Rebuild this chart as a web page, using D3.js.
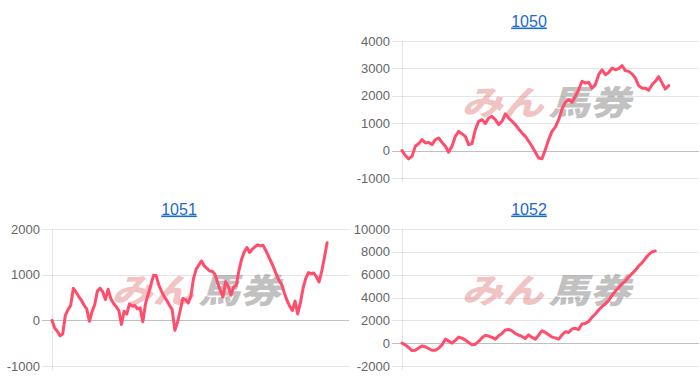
<!doctype html>
<html lang="ja">
<head>
  <meta charset="utf-8">
  <title>収支グラフ</title>
  <style>
    html, body { margin: 0; padding: 0; background: #fff; }
    #charts { width: 700px; height: 382px; }
    .grid line { stroke: rgba(0, 0, 0, 0.1); shape-rendering: crispEdges; }
    .grid line.zero { stroke: rgba(0, 0, 0, 0.25); }
    .tick-label { font: 13px "Liberation Sans", Arial, sans-serif; fill: #666; }
    .title { font: 16px "Liberation Sans", Arial, sans-serif; fill: #1a6ad0; text-decoration: underline; }
    .pl-line { fill: none; stroke: #ff4d6b; stroke-width: 3; stroke-linejoin: round; stroke-linecap: round; }
    .wm { font-weight: 900; font-style: italic; font-family: "Noto Sans CJK JP", sans-serif; }
  </style>
</head>
<body>
<div id="charts"></div>

<script src="https://d3js.org/d3.v7.min.js"></script>
<script>
  // cumulative profit per race
  const pl1050 = [0, -180, -300, -210, 160, 255, 400, 280, 300, 220, 400, 460, 300, 160, -60, 160, 520, 700, 610, 520,
    220, 255, 765, 1070, 1130, 985, 1190, 1250, 1130, 950, 1070, 1340, 1190, 1070, 950, 790, 645, 520, 340, 160,
    -60, -270, -300, 40, 400, 700, 860, 1130, 1520, 1760, 1860, 1760, 1980, 2220, 2530, 2470, 2490, 2280, 2400, 2770,
    2950, 2770, 2850, 3010, 2950, 2990, 3100, 2920, 2890, 2800, 2650, 2370, 2280, 2280, 2200, 2400, 2530, 2700, 2470, 2250,
    2370];

  const pl1051 = [0, -170, -240, -340, -300, 110, 235, 330, 700, 620, 520, 440, 330, 250, -20, 190, 345, 640, 705, 625,
    455, 680, 480, 375, 300, 220, -90, 200, 140, 360, 310, 325, 250, 270, -30, 360, 565, 770, 985, 980,
    770, 640, 520, 435, 325, 235, -220, -40, 215, 480, 455, 380, 530, 920, 1120, 1215, 1300, 1190, 1140, 1080,
    1075, 1010, 825, 655, 510, 845, 750, 550, 730, 770, 1095, 1340, 1500, 1595, 1485, 1560, 1610, 1655, 1630, 1645,
    1535, 1410, 1285, 1155, 1005, 875, 785, 600, 435, 310, 215, 420, 140, 380, 700, 920, 1045, 1020, 1035, 955,
    840, 1080, 1375, 1700];

  const pl1052 = [0, -150, -380, -650, -620, -430, -250, -320, -470, -620, -620, -440, -150, 350, 180, 0, 250, 530, 440, 270,
    60, -150, -90, 150, 470, 680, 620, 500, 350, 650, 850, 1150, 1200, 1080, 850, 700, 590, 420, 730, 500,
    350, 700, 1090, 940, 740, 530, 460, 350, 720, 1000, 940, 1240, 1300, 1200, 1680, 1730, 1900, 2270, 2560, 2910,
    3200, 3440, 3735, 4180, 4560, 4850, 5200, 5440, 5800, 6090, 6380, 6760, 7030, 7410, 7760, 8000, 8080];

  const titles = ['1050', '1051', '1052'];
  const yTicks1050 = [-1000, 0, 1000, 2000, 3000, 4000];
  const yTicks1051 = [-1000, 0, 1000, 2000];
  const yTicks1052 = [-2000, 0, 2000, 4000, 6000, 8000, 10000];

  // grid cell of each chart (top-left cell is empty)
  const charts = [
    { title: titles[0], values: pl1050, ticks: yTicks1050, xMax: 89.1, ox: 350, oy: 0 },
    { title: titles[1], values: pl1051, ticks: yTicks1051, xMax: 111.2, ox: 0, oy: 188 },
    { title: titles[2], values: pl1052, ticks: yTicks1052, xMax: 89.1, ox: 350, oy: 188 }
  ];

  const svg = d3.select('#charts').append('svg')
    .attr('width', 700)
    .attr('height', 382);

  charts.forEach(drawChart);

  function drawChart(c) {
    const left = 52, right = 349, top = 41, bottom = 178;
    const g = svg.append('g').attr('transform', `translate(${c.ox},${c.oy})`);

    const x = d3.scaleLinear().domain([0, c.xMax]).range([left, right]);
    const y = d3.scaleLinear().domain(d3.extent(c.ticks)).range([bottom, top]);

    // title (link style)
    g.append('text')
      .attr('class', 'title')
      .attr('x', 179)
      .attr('y', 26.5)
      .attr('text-anchor', 'middle')
      .text(c.title);

    // horizontal grid lines + tick marks
    const grid = g.append('g').attr('class', 'grid');
    grid.selectAll('line.h')
      .data(c.ticks)
      .join('line')
      .attr('class', d => d === 0 ? 'h zero' : 'h')
      .attr('x1', left - 10)
      .attr('x2', right)
      .attr('y1', d => Math.round(y(d)) + 0.5)
      .attr('y2', d => Math.round(y(d)) + 0.5);

    // left axis line
    grid.append('line')
      .attr('x1', left + 0.5).attr('x2', left + 0.5)
      .attr('y1', top).attr('y2', bottom + 4);

    g.selectAll('text.tick-label')
      .data(c.ticks)
      .join('text')
      .attr('class', 'tick-label')
      .attr('x', left - 12)
      .attr('y', d => y(d))
      .attr('dy', '0.35em')
      .attr('text-anchor', 'end')
      .text(d => d);

    // watermark logo
    const cx = (left + right) / 2 - 3, cy = (top + bottom) / 2 - 9;
    g.append('text')
      .attr('class', 'wm')
      .attr('x', cx - 86).attr('y', cy + 14)
      .attr('font-size', 34)
      .attr('textLength', 82).attr('lengthAdjust', 'spacingAndGlyphs')
      .attr('fill', 'rgba(225, 120, 120, 0.45)')
      .text('みん');
    g.append('text')
      .attr('class', 'wm')
      .attr('x', cx + 1).attr('y', cy + 14)
      .attr('font-size', 34)
      .attr('textLength', 82).attr('lengthAdjust', 'spacingAndGlyphs')
      .attr('fill', 'rgba(140, 140, 140, 0.55)')
      .text('馬券');

    // profit line
    const line = d3.line()
      .x((d, i) => x(i))
      .y(d => y(d));

    g.append('path')
      .datum(c.values)
      .attr('class', 'pl-line')
      .attr('d', line);
  }
</script>
</body>
</html>
